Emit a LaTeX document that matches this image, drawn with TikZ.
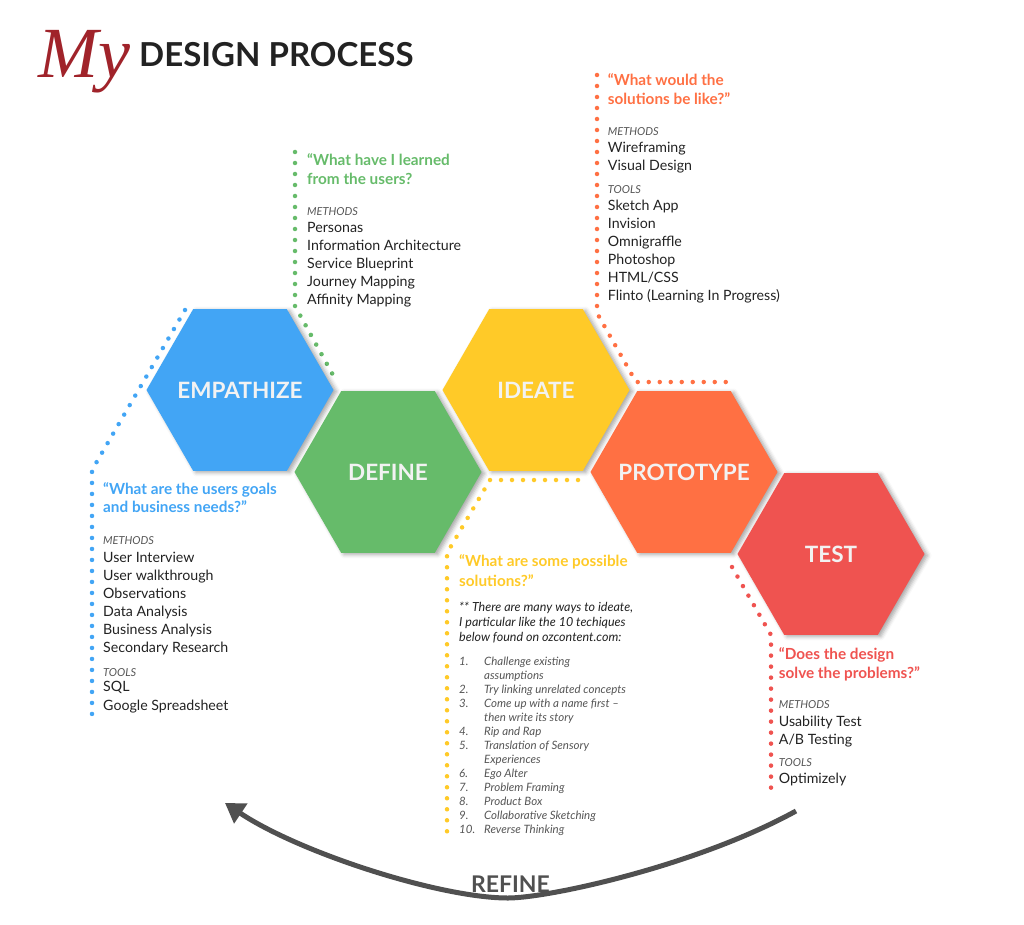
\documentclass[tikz,border=0pt]{standalone}
\usepackage{fontspec}
\setmainfont{Lato}
\newfontfamily\myscript{Liberation Serif}
\usetikzlibrary{shapes.geometric,shadows.blur,arrows.meta}

\definecolor{empblue}{HTML}{42A5F5}
\definecolor{defgreen}{HTML}{66BB6A}
\definecolor{ideyellow}{HTML}{FFCA28}
\definecolor{proorange}{HTML}{FF7043}
\definecolor{tstred}{HTML}{EF5350}
\definecolor{titlegray}{HTML}{222222}
\definecolor{itemblack}{HTML}{222222}
\definecolor{headgray}{HTML}{555555}
\definecolor{listgray}{HTML}{555555}
\definecolor{refinegray}{HTML}{505050}
\definecolor{scriptred}{HTML}{A0232A}
\definecolor{hextext}{HTML}{F2F2F2}

\begin{document}
\begin{tikzpicture}[x=1pt,y=-1pt,
  hexa/.style={regular polygon, regular polygon sides=6, minimum size=187pt,
    inner sep=0pt, outer sep=0pt,
    blur shadow={shadow xshift=3pt, shadow yshift=-1.5pt, shadow blur radius=4pt, shadow opacity=35}},
  hexlabel/.style={inner sep=0pt, text=hextext, font=\bfseries\fontsize{22.5}{22.5}\selectfont},
  dotline/.style={line width=4.5pt, line cap=round, dash pattern=on 0pt off 11pt},
  quotetxt/.style={anchor=base west, inner sep=0pt, font=\bfseries\fontsize{15.3}{15.3}\selectfont},
  headtxt/.style={anchor=base west, inner sep=0pt, font=\itshape\fontsize{11}{11}\selectfont, text=headgray},
  itemtxt/.style={anchor=base west, inner sep=0pt, font=\fontsize{14.2}{14.2}\selectfont, text=itemblack},
  notetxt/.style={anchor=base west, inner sep=0pt, font=\itshape\fontsize{12.5}{12.5}\selectfont, text=itemblack},
  listtxt/.style={anchor=base west, inner sep=0pt, font=\itshape\fontsize{11.5}{11.5}\selectfont, text=listgray},
  refine/.style={line width=5pt, draw=refinegray, -{Triangle[length=19pt,width=23pt]}},
]
\useasboundingbox (0,0) rectangle (1024,925);

% ---- title ----
\node[anchor=base west, inner sep=0pt, text=scriptred,
      font=\myscript\itshape\fontsize{72}{72}\selectfont] (my) at (38,78) {My};
\node[anchor=base west, inner sep=0pt, text=titlegray,
      font=\bfseries\fontsize{33}{33}\selectfont] (title) at (139,66.7) {DESIGN PROCESS};

% ---- leader lines ----
\draw[dotline, draw=empblue]   (185,310) -- (92,470) -- (92,716);
\draw[dotline, draw=defgreen]  (295,152) -- (295,306) -- (333,375);
\draw[dotline, draw=ideyellow] (578,480) -- (490,480) -- (447,553) -- (447,832);
\draw[dotline, draw=proorange] (597,75) -- (597,313) -- (636,382) -- (728,382);
\draw[dotline, draw=tstred]    (732,567) -- (771,635) -- (771,790);

% ---- process stages ----
\node[hexa, fill=empblue]   (emp) at (240,390) {};
\node[hexa, fill=defgreen]  (def) at (388,472) {};
\node[hexa, fill=ideyellow] (ide) at (536,390) {};
\node[hexa, fill=proorange] (pro) at (684,472) {};
\node[hexa, fill=tstred]    (tst) at (831,554) {};
\node[hexlabel] (empl) at (emp.center) {EMPATHIZE};
\node[hexlabel] (defl) at (def.center) {DEFINE};
\node[hexlabel] (idel) at (ide.center) {IDEATE};
\node[hexlabel] (prol) at (pro.center) {PROTOTYPE};
\node[hexlabel] (tstl) at (tst.center) {TEST};

% ---- empathize notes ----
\node[quotetxt, text=empblue] (empq1) at (103,494.3) {“What are the users goals};
\node[quotetxt, text=empblue] (empq2) at (103,512.7) {and business needs?”};
\node[headtxt] (emph1) at (103,544) {METHODS};
\foreach \y/\t [count=\i] in {562.7/User Interview, 580.7/User walkthrough,
    598.7/Observations, 616.7/Data Analysis, 634.7/Business Analysis,
    652.7/Secondary Research}
  \node[itemtxt] (empm\i) at (103,\y) {\t};
\node[headtxt] (emph2) at (103,676) {TOOLS};
\node[itemtxt] (empt1) at (103,691.7) {SQL};
\node[itemtxt] (empt2) at (103,710) {Google Spreadsheet};

% ---- define notes ----
\node[quotetxt, text=defgreen] (defq1) at (307,166) {“What have I learned};
\node[quotetxt, text=defgreen] (defq2) at (307,184.3) {from the users?};
\node[headtxt] (defh1) at (307,215) {METHODS};
\foreach \y/\t [count=\i] in {232.7/Personas, 250.7/Information Architecture,
    268.7/Service Blueprint, 286.7/Journey Mapping, 304.7/Affinity Mapping}
  \node[itemtxt] (defm\i) at (307,\y) {\t};

% ---- ideate notes ----
\node[quotetxt, text=ideyellow] (ideq1) at (459,566.7) {“What are some possible};
\node[quotetxt, text=ideyellow] (ideq2) at (459,586) {solutions?”};
\node[notetxt] (iden1) at (459,611.7) {** There are many ways to ideate,};
\node[notetxt] (iden2) at (459,626.7) {I particular like the 10 techiques};
\node[notetxt] (iden3) at (459,641.7) {below found on ozcontent.com:};
\foreach \n/\k in {1/0, 2/2, 3/3, 4/5, 5/6, 6/8, 7/9, 8/10, 9/11, 10/12}
  \node[listtxt] (idenum\n) at (459,665+14*\k) {\n.};
\foreach \k/\t in {0/Challenge existing, 1/assumptions, 2/Try linking unrelated concepts,
    3/Come up with a name first –, 4/then write its story, 5/Rip and Rap,
    6/Translation of Sensory, 7/Experiences, 8/Ego Alter, 9/Problem Framing,
    10/Product Box, 11/Collaborative Sketching, 12/Reverse Thinking}
  \node[listtxt] (ideitem\k) at (484,665+14*\k) {\t};

% ---- prototype notes ----
\node[quotetxt, text=proorange] (proq1) at (607.7,86) {“What would the};
\node[quotetxt, text=proorange] (proq2) at (607.7,105) {solutions be like?”};
\node[headtxt] (proh1) at (607.7,135.7) {METHODS};
\node[itemtxt] (prom1) at (607.7,152.7) {Wireframing};
\node[itemtxt] (prom2) at (607.7,170.7) {Visual Design};
\node[headtxt] (proh2) at (607.7,193.3) {TOOLS};
\foreach \y/\t [count=\i] in {210.7/{Sketch App}, 228.7/{Invision}, 246.7/{Omnigraffle},
    264.7/{Photoshop}, 282.7/{HTML/CSS}, 300.7/{Flinto (Learning In Progress)}}
  \node[itemtxt] (prot\i) at (607.7,\y) {\t};

% ---- test notes ----
\node[quotetxt, text=tstred] (tstq1) at (778.7,659.3) {“Does the design};
\node[quotetxt, text=tstred] (tstq2) at (778.7,678.3) {solve the problems?”};
\node[headtxt] (tsth1) at (778.7,708.3) {METHODS};
\node[itemtxt] (tstm1) at (778.7,726) {Usability Test};
\node[itemtxt] (tstm2) at (778.7,744.3) {A/B Testing};
\node[headtxt] (tsth2) at (778.7,766.7) {TOOLS};
\node[itemtxt] (tstt1) at (778.7,783.3) {Optimizely};

% ---- refine loop ----
\coordinate (refineFrom) at (796,811);
\coordinate (refineMid) at (508,898);
\coordinate (refineTo) at (225,803);
\draw[refine] (refineFrom) .. controls (696,866) and (548,898) .. (refineMid)
  .. controls (440,898) and (300,853) .. (refineTo);
\node[anchor=base, inner sep=0pt, text=refinegray,
      font=\bfseries\fontsize{23}{23}\selectfont] (refinelbl) at (510.5,892) {REFINE};
\end{tikzpicture}
\end{document}
